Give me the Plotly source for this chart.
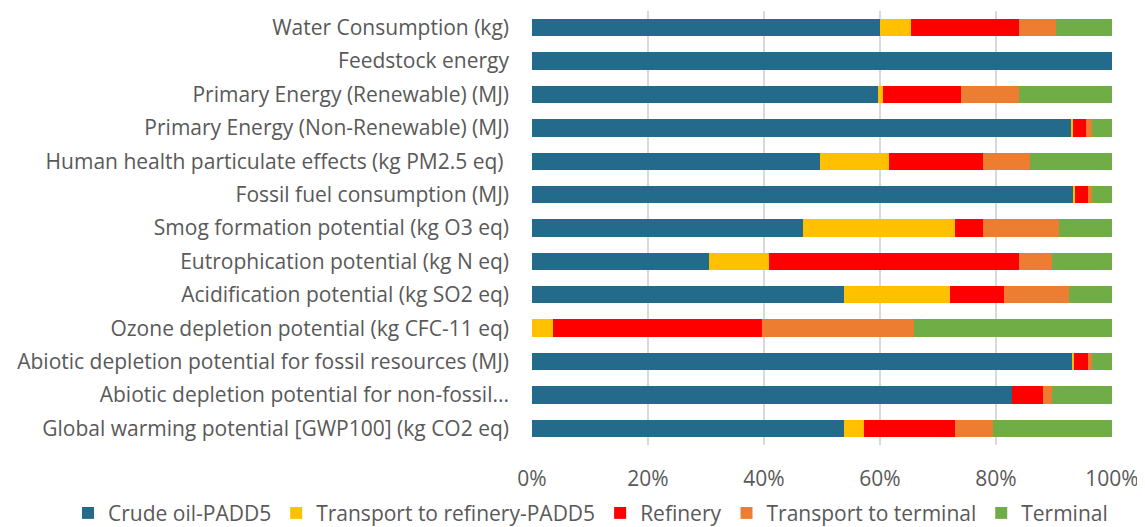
import plotly.graph_objects as go

categories = [
    "Water Consumption (kg)",
    "Feedstock energy",
    "Primary Energy (Renewable) (MJ)",
    "Primary Energy (Non-Renewable) (MJ)",
    "Human health particulate effects (kg PM2.5 eq) ",
    "Fossil fuel consumption (MJ)",
    "Smog formation potential (kg O3 eq)",
    "Eutrophication potential (kg N eq)",
    "Acidification potential (kg SO2 eq)",
    "Ozone depletion potential (kg CFC-11 eq)",
    "Abiotic depletion potential for fossil resources (MJ)",
    "Abiotic depletion potential for non-fossil...",
    "Global warming potential [GWP100] (kg CO2 eq)",
]

crude_oil = [60.0, 100.0, 59.6, 93.0, 49.7, 93.2, 46.8, 30.6, 53.8, 0.0, 93.2, 82.7, 53.8]
transport_refinery = [5.3, 0.0, 0.9, 0.3, 11.9, 0.4, 26.1, 10.3, 18.2, 3.6, 0.3, 0.0, 3.4]
refinery = [18.6, 0.0, 13.5, 2.3, 16.1, 2.2, 4.8, 43.0, 9.3, 36.0, 2.3, 5.4, 15.7]
transport_terminal = [6.4, 0.0, 9.9, 1.0, 8.2, 0.8, 13.1, 5.7, 11.3, 26.2, 0.8, 1.5, 6.6]
terminal = [9.7, 0.0, 16.1, 3.4, 14.1, 3.4, 9.2, 10.4, 7.4, 34.2, 3.4, 10.4, 20.5]

series = [
    ("Crude oil-PADD5", crude_oil, "#246A8A"),
    ("Transport to refinery-PADD5", transport_refinery, "#FFC000"),
    ("Refinery", refinery, "#FF0000"),
    ("Transport to terminal", transport_terminal, "#ED7D31"),
    ("Terminal", terminal, "#70AD47"),
]

fig = go.Figure()
for name, vals, color in series:
    fig.add_trace(go.Bar(
        y=categories,
        x=vals,
        name=name,
        orientation="h",
        marker=dict(color=color, line=dict(width=0)),
    ))

# the page body adds an 8px margin, so the figure is sized 8px smaller
fig.update_layout(
    barmode="stack",
    barnorm="percent",
    bargap=0.48,
    width=1137,
    height=519,
    paper_bgcolor="white",
    plot_bgcolor="white",
    font=dict(family="Open Sans, sans-serif", size=21, color="#595959"),
    margin=dict(l=524, r=33, t=3, b=82, autoexpand=False),
    xaxis=dict(
        range=[0, 100],
        tickvals=[0, 20, 40, 60, 80, 100],
        ticktext=["0%", "20%", "40%", "60%", "80%", "100%"],
        showgrid=True,
        gridcolor="#D9D9D9",
        gridwidth=1.5,
        zeroline=False,
        ticks="",
        ticklabelstandoff=19,
        tickfont=dict(size=21),
        automargin=False,
    ),
    yaxis=dict(
        autorange="reversed",
        showgrid=False,
        ticks="",
        ticklabelstandoff=22,
        automargin=False,
    ),
    legend=dict(
        orientation="h",
        x=-0.8,
        xanchor="left",
        y=-0.11,
        yanchor="top",
        traceorder="normal",
        font=dict(size=21),
    ),
)

fig.write_html("out.html")
